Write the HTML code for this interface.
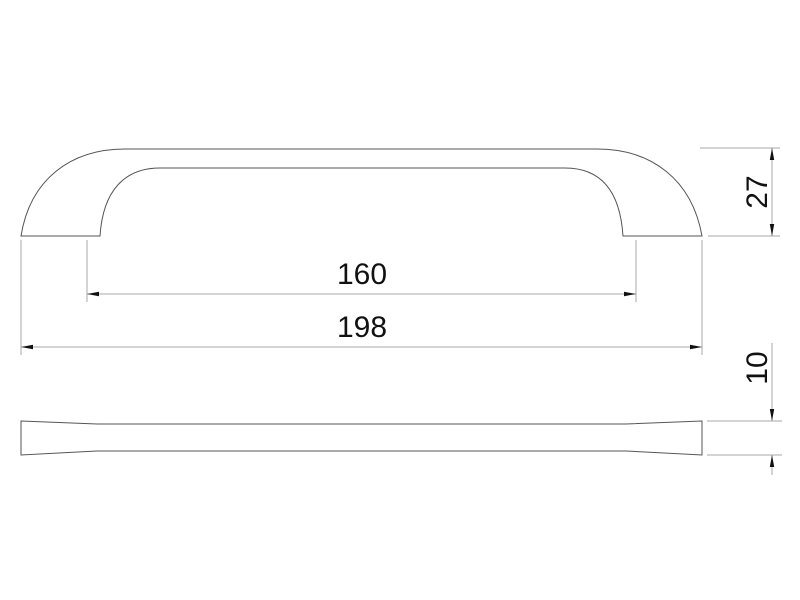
<!DOCTYPE html>
<html><head><meta charset="utf-8"><style>html,body{margin:0;padding:0;background:#fff}svg{display:block}</style></head><body>
<svg width="800" height="600" viewBox="0 0 800 600" xmlns="http://www.w3.org/2000/svg">
<defs>
<marker id="a" viewBox="0 0 12 6" refX="12" refY="3" markerWidth="12" markerHeight="6" markerUnits="userSpaceOnUse" orient="auto"><path d="M0,0.8 L12,3 L0,5.2 Z" fill="#111"/></marker>
</defs>
<g fill="none" stroke="#555" stroke-width="1">
<path d="M21,236 C30,180 70,149 125,149 L597,149 C652,149 692,180 702,236 L623,236 C620,190 600,168 565,168 L160,168 C125,168 103,190 100,236 Z"/>
<path d="M21,421 L97,424 L626,424 L702,421 L702,455 L626,451 L97,451 L21,455 Z"/>
</g>
<g stroke="#aaa" stroke-width="1" fill="none">
<line x1="87" y1="240" x2="87" y2="302"/>
<line x1="636" y1="240" x2="636" y2="302"/>
<line x1="21" y1="240" x2="21" y2="355"/>
<line x1="702" y1="240" x2="702" y2="355"/>
<line x1="700" y1="148" x2="780" y2="148"/>
<line x1="708" y1="236" x2="780" y2="236"/>
<line x1="707" y1="421" x2="782" y2="421"/>
<line x1="707" y1="455" x2="782" y2="455"/>
</g>
<g stroke="#aaa" stroke-width="1">
<line x1="362" y1="294" x2="87" y2="294" marker-end="url(#a)"/>
<line x1="362" y1="294" x2="636" y2="294" marker-end="url(#a)"/>
<line x1="362" y1="347" x2="21" y2="347" marker-end="url(#a)"/>
<line x1="362" y1="347" x2="702" y2="347" marker-end="url(#a)"/>
<line x1="772" y1="192" x2="772" y2="148" marker-end="url(#a)"/>
<line x1="772" y1="192" x2="772" y2="236" marker-end="url(#a)"/>
<line x1="772" y1="343" x2="772" y2="421" marker-end="url(#a)"/>
<line x1="772" y1="475" x2="772" y2="455" marker-end="url(#a)"/>
</g>
<g font-family="Liberation Sans, sans-serif" font-size="30" fill="#111" text-anchor="middle">
<text x="362" y="284">160</text>
<text x="362" y="337">198</text>
<text transform="translate(767,192) rotate(-90)">27</text>
<text transform="translate(767,368) rotate(-90)">10</text>
</g>
</svg>
</body></html>
